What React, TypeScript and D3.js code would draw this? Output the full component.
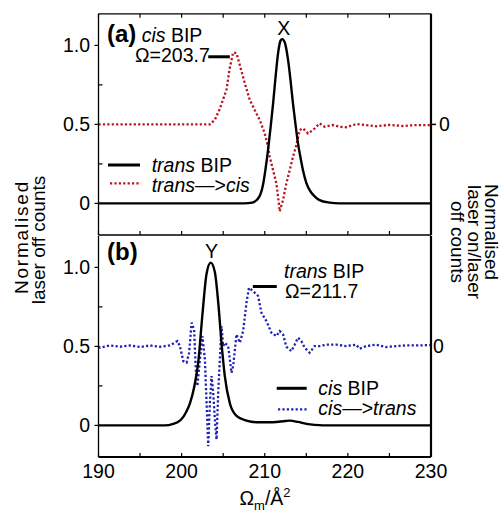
import React from 'react';
import * as d3 from 'd3';

// x axis
const xDomain = [190, 230];
const xMajor = [190, 200, 210, 220, 230];
const xMinor = [195, 205, 215, 225];
const yDomain = [-0.2, 1.2];
const yMajor = [0, 0.5, 1.0];
const yMajorLabels = ['0', '0.5', '1.0'];
const yMinor = [0.25, 0.75];

// panel (a): trans BIP (solid) and trans->cis difference (dotted)
const transX = [190, 200, 207.5, 208.5, 209, 209.5, 209.8, 210.1, 210.4, 210.7, 211, 211.3, 211.6, 211.9, 212.1, 212.4, 212.8, 213.1, 213.4, 213.7, 214, 214.3, 214.6, 215, 215.4, 216, 216.6, 217.8, 219, 230];
const transY = [0, 0, 0, 0.005, 0.02, 0.06, 0.12, 0.22, 0.34, 0.48, 0.63, 0.8, 0.95, 1.03, 1.04, 1.02, 0.91, 0.78, 0.63, 0.5, 0.38, 0.29, 0.21, 0.13, 0.084, 0.045, 0.021, 0.005, 0, 0];

const tcX = [190, 192, 194, 196, 198, 200, 202, 203.4, 204.0, 204.6, 205.0, 205.4, 205.8, 206.2, 206.6, 207.0, 207.6, 208.2, 208.8, 209.4, 210.0, 210.4, 210.6, 211.0, 211.4, 211.6, 211.8, 212.2, 212.6, 213.0, 213.4, 213.8, 214.2, 214.6, 215.2, 215.8, 216.6, 217.2, 218.2, 219.0, 219.8, 221.0, 222.2, 223.4, 225.0, 226.6, 228.2, 230];
const tcY = [0.5, 0.5, 0.5, 0.5, 0.5, 0.5, 0.5, 0.5, 0.53, 0.6, 0.66, 0.72, 0.86, 0.955, 0.95, 0.875, 0.76, 0.655, 0.59, 0.527, 0.443, 0.358, 0.295, 0.21, 0.127, 0.042, -0.05, 0.021, 0.127, 0.21, 0.295, 0.369, 0.464, 0.475, 0.443, 0.464, 0.506, 0.485, 0.496, 0.485, 0.482, 0.502, 0.496, 0.488, 0.497, 0.49, 0.496, 0.496];

// panel (b): cis BIP (solid) and cis->trans difference (dotted)
const cisX = [190, 198, 199, 199.5, 200, 200.5, 201, 201.5, 202, 202.5, 203, 203.5, 204, 204.4, 204.8, 205.2, 205.8, 206.6, 207.8, 209, 211, 212.5, 213, 214, 215, 216, 217, 230];
const cisY = [0, 0, 0.01, 0.02, 0.04, 0.08, 0.14, 0.24, 0.4, 0.7, 0.96, 1.03, 0.97, 0.78, 0.52, 0.31, 0.14, 0.06, 0.03, 0.02, 0.02, 0.028, 0.03, 0.022, 0.01, 0.003, 0, 0];

const ctX = [190, 190.2, 191.4, 192.6, 193.8, 195.0, 196.2, 197.4, 198.6, 199.5, 199.8, 200.2, 200.6, 200.9, 201.2, 201.5, 201.7, 201.9, 202.2, 202.5, 202.8, 203.0, 203.2, 203.4, 203.6, 203.8, 204.0, 204.2, 204.4, 204.8, 205.0, 205.2, 205.6, 206.0, 206.2, 206.6, 207.0, 207.4, 207.8, 208.1, 208.6, 209.2, 209.6, 210.2, 210.8, 211.4, 211.8, 212.2, 212.6, 213.2, 213.6, 214.0, 214.4, 214.8, 215.4, 216.0, 216.6, 217.4, 218.6, 219.8, 221.0, 221.4, 222.2, 223.4, 224.6, 225.8, 227.0, 228.2, 230];
const ctY = [0.498, 0.492, 0.506, 0.498, 0.506, 0.496, 0.506, 0.498, 0.506, 0.534, 0.5, 0.407, 0.397, 0.46, 0.65, 0.608, 0.354, 0.249, 0.418, 0.565, 0.418, 0.143, -0.131, 0.143, 0.312, 0.207, 0.038, -0.089, 0.207, 0.629, 0.502, 0.523, 0.502, 0.333, 0.375, 0.576, 0.523, 0.597, 0.776, 0.871, 0.85, 0.819, 0.713, 0.66, 0.587, 0.565, 0.597, 0.576, 0.498, 0.47, 0.511, 0.555, 0.534, 0.492, 0.46, 0.502, 0.502, 0.511, 0.511, 0.502, 0.511, 0.485, 0.502, 0.511, 0.496, 0.502, 0.506, 0.506, 0.508];

const FONT = 'Liberation Sans, Arial, Helvetica, sans-serif';
const RED = '#b5161e';
const BLUE = '#1e22b0';

const x = d3.scaleLinear().domain(xDomain).range([98.5, 431]);

const zip = (xs, ys) => xs.map((v, i) => [v, ys[i]]);

const Panel = ({ top, bottom, solid, dotted, color, topTicks, showRightTick }) => {
  const y = d3.scaleLinear().domain(yDomain).range([bottom, top]);
  const solidLine = d3.line().x(d => x(d[0])).y(d => y(d[1])).curve(d3.curveMonotoneX);
  const dotLine = d3.line().x(d => x(d[0])).y(d => y(d[1]));
  return (
    <g>
      <defs>
        <clipPath id={'clip' + Math.round(top)}>
          <rect x={x(190)} y={top} width={x(230) - x(190)} height={bottom - top + 20} />
        </clipPath>
      </defs>
      <g clipPath={`url(#clip${Math.round(top)})`}>
        <path d={dotLine(dotted)} fill="none" stroke={color} strokeWidth={2.3} strokeDasharray="2.2,2.2" />
        <path d={solidLine(solid)} fill="none" stroke="#000" strokeWidth={2.4} />
      </g>
      {/* frame */}
      <line x1={x(190)} x2={x(190)} y1={top} y2={bottom} stroke="#000" strokeWidth={1.3} />
      <line x1={x(230)} x2={x(230)} y1={top} y2={bottom} stroke="#000" strokeWidth={2.2} />
      {topTicks && <line x1={x(190)} x2={x(230)} y1={top} y2={top} stroke="#000" strokeWidth={1.3} />}
      <line x1={x(190)} x2={x(230)} y1={bottom} y2={bottom} stroke="#000" strokeWidth={topTicks ? 1.3 : 2.2} />
      {/* x ticks */}
      {[...xMajor, ...xMinor].map(v => (
        <g key={'xt' + v}>
          <line x1={x(v)} x2={x(v)} y1={bottom} y2={bottom - 4} stroke="#000" strokeWidth={1.2} />
          {topTicks && <line x1={x(v)} x2={x(v)} y1={top} y2={top + 4} stroke="#000" strokeWidth={1.2} />}
        </g>
      ))}
      {/* y ticks */}
      {yMajor.map((v, i) => (
        <g key={'ym' + v}>
          <line x1={x(190) - 4} x2={x(190)} y1={y(v)} y2={y(v)} stroke="#000" strokeWidth={1.2} />
          <text x={90} y={y(v)} dy="0.36em" textAnchor="end" fontSize={19.5} fontFamily={FONT}>{yMajorLabels[i]}</text>
        </g>
      ))}
      {yMinor.map(v => (
        <line key={'yn' + v} x1={x(190)} x2={x(190) + 4} y1={y(v)} y2={y(v)} stroke="#000" strokeWidth={1.2} />
      ))}
      {/* right axis: zero of the difference */}
      {showRightTick && <line x1={x(230)} x2={x(230) + 5} y1={y(0.5)} y2={y(0.5)} stroke="#000" strokeWidth={1.5} />}
      <text x={x(230) + (showRightTick ? 8 : 2)} y={y(0.5)} dy="0.36em" fontSize={19.5} fontFamily={FONT}>0</text>
    </g>
  );
};

export default function App() {
  const ya = d3.scaleLinear().domain(yDomain).range([235, 13.8]);
  const yb = d3.scaleLinear().domain(yDomain).range([457, 235.8]);
  const fs = 19.5;
  return (
    <svg width={504} height={514} style={{ position: 'absolute', left: 0, top: 0, background: '#fff' }} fontFamily={FONT}>
      <Panel top={13.8} bottom={235} solid={zip(transX, transY)} dotted={zip(tcX, tcY)} color={RED} topTicks={true} showRightTick={true} />
      <Panel top={235.8} bottom={457} solid={zip(cisX, cisY)} dotted={zip(ctX, ctY)} color={BLUE} topTicks={false} showRightTick={false} />

      {/* panel (a) annotations */}
      <text x={107} y={41.7} fontSize={24} fontWeight="bold">(a)</text>
      <text x={141.7} y={41.7} fontSize={fs}><tspan fontStyle="italic">cis</tspan> BIP</text>
      <text x={135} y={61.7} fontSize={fs}>Ω=203.7</text>
      <line x1={x(203.2)} x2={x(205.8)} y1={ya(0.928)} y2={ya(0.928)} stroke="#000" strokeWidth={3} />
      <text x={x(212.3)} y={35} fontSize={fs} textAnchor="middle">X</text>
      <line x1={108} x2={140} y1={165} y2={165} stroke="#000" strokeWidth={3} />
      <text x={151.7} y={171.7} fontSize={fs}><tspan fontStyle="italic">trans</tspan> BIP</text>
      <line x1={110} x2={141} y1={183.3} y2={183.3} stroke={RED} strokeWidth={2.3} strokeDasharray="2.2,2.2" />
      <text x={151.7} y={191.7} fontSize={fs}><tspan fontStyle="italic">trans</tspan>—&gt;<tspan fontStyle="italic">cis</tspan></text>

      {/* panel (b) annotations */}
      <text x={107} y={260} fontSize={24} fontWeight="bold">(b)</text>
      <text x={x(203.6)} y={258} fontSize={fs} textAnchor="middle">Y</text>
      <text x={284} y={278.3} fontSize={fs}><tspan fontStyle="italic">trans</tspan> BIP</text>
      <text x={285} y={298.3} fontSize={fs}>Ω=211.7</text>
      <line x1={x(208.57)} x2={x(211.45)} y1={yb(0.879)} y2={yb(0.879)} stroke="#000" strokeWidth={3} />
      <line x1={276.7} x2={306.7} y1={388.3} y2={388.3} stroke="#000" strokeWidth={3} />
      <text x={318.3} y={395} fontSize={fs}><tspan fontStyle="italic">cis</tspan> BIP</text>
      <line x1={278} x2={307} y1={409.3} y2={409.3} stroke={BLUE} strokeWidth={2.3} strokeDasharray="2.2,2.2" />
      <text x={318.3} y={415} fontSize={fs}><tspan fontStyle="italic">cis</tspan>—&gt;<tspan fontStyle="italic">trans</tspan></text>

      {/* x tick labels */}
      {xMajor.map(v => (
        <text key={'xl' + v} x={x(v)} y={478} textAnchor="middle" fontSize={fs}>{v}</text>
      ))}
      <text x={265} y={505} textAnchor="middle" fontSize={fs}>
        Ω<tspan fontSize={13} dy={5}>m</tspan><tspan dy={-5}>/Å</tspan><tspan fontSize={13} dy={-8}>2</tspan>
      </text>

      {/* axis titles */}
      <text transform="translate(28,237) rotate(-90)" textAnchor="middle" fontSize={19} letterSpacing={1.8}>Normalised</text>
      <text transform="translate(45,240) rotate(-90)" textAnchor="middle" fontSize={19}>laser off counts</text>
      <text transform="translate(485,232) rotate(90)" textAnchor="middle" fontSize={19}>Normalised</text>
      <text transform="translate(468,242) rotate(90)" textAnchor="middle" fontSize={19}>laser on/laser</text>
      <text transform="translate(451,242) rotate(90)" textAnchor="middle" fontSize={19}>off counts</text>
    </svg>
  );
}
